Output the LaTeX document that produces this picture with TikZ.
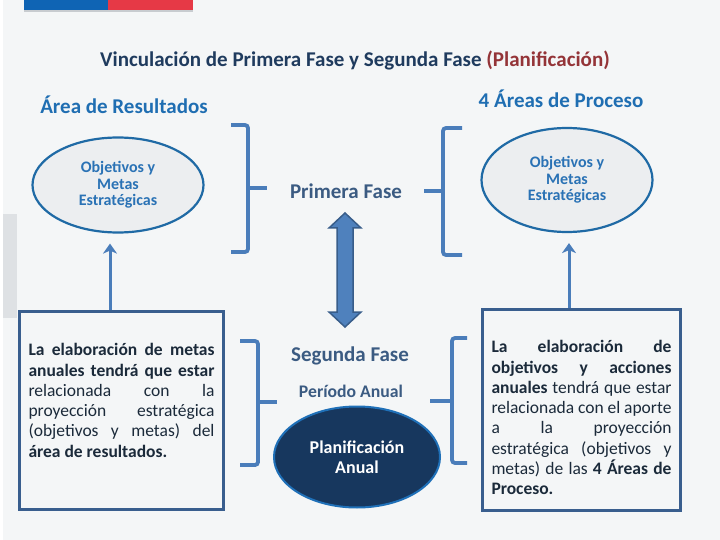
\documentclass[tikz,border=0pt]{standalone}
\usepackage{fontspec}
\setmainfont{Carlito}
\usepackage{tikz}
\usetikzlibrary{shapes,arrows.meta,positioning,calc}
\usepackage{xcolor}

\definecolor{fondo}{HTML}{F4F6F7}
\definecolor{titulo}{HTML}{1F3B5E}
\definecolor{rojo}{HTML}{943438}
\definecolor{encabezado}{HTML}{1F6EB2}
\definecolor{textoMeta}{HTML}{2A72B5}
\definecolor{bordeMeta}{HTML}{1F6AA5}
\definecolor{rellenoMeta}{HTML}{ECEEF0}
\definecolor{textoFase}{HTML}{3B5B82}
\definecolor{bordeCaja}{HTML}{395E8E}
\definecolor{textoCaja}{HTML}{1B2A3A}
\definecolor{llaveAzul}{HTML}{4A7DBA}
\definecolor{rellenoFlecha}{HTML}{4F81BD}
\definecolor{bordeFlecha}{HTML}{385D8A}
\definecolor{planRelleno}{HTML}{17375E}
\definecolor{planBorde}{HTML}{1F70B8}
\definecolor{banderaAzul}{HTML}{0F64B4}
\definecolor{banderaRoja}{HTML}{E63946}
\definecolor{grisLinea}{HTML}{C8CCD0}
\definecolor{grisBarra}{HTML}{DEE1E4}

\begin{document}
\begin{tikzpicture}[x=1pt, y=-1pt,
    meta/.style={ellipse, draw=bordeMeta, line width=2.2pt, fill=rellenoMeta, inner sep=0pt,
        minimum width=171pt, minimum height=#1, align=center, text=textoMeta,
        font=\fontsize{16}{16.5}\selectfont\bfseries},
    caja/.style={rectangle, draw=bordeCaja, line width=3pt, fill=fondo, inner ysep=0pt,
        inner xsep=#1, anchor=north west, text=textoCaja, font=\fontsize{17.5}{20.3}\selectfont},
    fase/.style={text=textoFase, font=\fontsize{#1}{22}\selectfont\bfseries},
    llave/.style={draw=llaveAzul, line width=3.8pt, rounded corners=3pt},
    flecha/.style={draw=llaveAzul, line width=3pt, -{Stealth[length=10pt,width=14pt,inset=3pt]}, shorten >=10pt},
    >=Stealth
]
    \useasboundingbox (0,0) rectangle (720,540);
    \fill[fondo] (0,0) rectangle (720,540);
    \fill[white] (0,0) rectangle (3,540);

    % Franja superior
    \fill[banderaAzul] (24,0) rectangle (108,10);
    \fill[banderaRoja] (108,0) rectangle (193,10);
    \fill[grisLinea] (24,10) rectangle (193,12);
    \fill[grisBarra] (3,214) rectangle (17,318);

    % Titulo
    \node[text=titulo, font=\fontsize{21}{24}\selectfont\bfseries] (titulo) at (355,60)
        {Vinculación de Primera Fase y Segunda Fase \textcolor{rojo}{(Planificación)}};
    \node[text=encabezado, font=\fontsize{21}{24}\selectfont\bfseries] (resultados) at (124,105) {Área de Resultados};
    \node[text=encabezado, font=\fontsize{21}{24}\selectfont\bfseries] (procesos) at (561,99) {4 Áreas de Proceso};

    % Objetivos
    \node[meta=95pt] (obj1) at (118,185) {Objetivos y\\Metas\\Estratégicas};
    \node[meta=104pt] (obj2) at (567,180) {Objetivos y\\Metas\\Estratégicas};

    % Fases
    \node[fase=21] (primera) at (346,191) {Primera Fase};
    \node[fase=21] (segunda) at (350,356) {Segunda Fase};
    \node[fase=17.7] (periodo) at (351,391) {Período Anual};
    \node[ellipse, draw=planBorde, line width=2pt, fill=planRelleno, minimum width=166pt, minimum height=101pt,
        align=center, text=white, font=\fontsize{18}{20}\selectfont\bfseries] (plan) at (357,457)
        {Planificación\\Anual};

    % Flecha doble
    \coordinate (enlace) at (345,270);
    \filldraw[draw=bordeFlecha, fill=rellenoFlecha, line width=1.5pt, line join=miter]
        ($(enlace)+(-8,-42)$) -- ($(enlace)+(-8,42)$) -- ($(enlace)+(-16,42)$) -- ($(enlace)+(0,57)$)
        -- ($(enlace)+(16,42)$) -- ($(enlace)+(8,42)$) -- ($(enlace)+(8,-42)$) -- ($(enlace)+(16,-42)$)
        -- ($(enlace)+(0,-57)$) -- ($(enlace)+(-16,-42)$) -- cycle;

    % Cajas
    \node[caja=9pt] (caja1) at (18,310) {\parbox[c][198pt][t]{186pt}{\vspace*{32pt}%
        {\bfseries La elaboración de metas\linebreak anuales tendrá que estar}\linebreak
        relacionada con la\linebreak proyección estratégica\linebreak
        (objetivos y metas) del\linebreak {\bfseries área de resultados.}}};
    \node[caja=9pt] (caja2) at (481,308) {\parbox[c][201pt][t]{180pt}{\vspace*{31pt}%
        {\bfseries La elaboración de\linebreak objetivos y acciones\linebreak anuales} tendrá que estar\linebreak
        relacionada con el aporte\linebreak a la proyección\linebreak
        estratégica (objetivos y\linebreak metas) de las {\bfseries 4 Áreas de\linebreak Proceso.}}};
    \draw[flecha] (caja1.north -| 110,0) -- (obj1.south -| 110,0);
    \draw[flecha] (caja2.north -| 569,0) -- (obj2.south -| 569,0);

    % Llaves
    \draw[llave] (231,125) -- (248,125) -- (248,252) -- (231,252);
    \draw[llave] (248,188) -- (267,188);
    \draw[llave] (462,128) -- (443,128) -- (443,255) -- (462,255);
    \draw[llave] (443,191) -- (424,191);
    \draw[llave] (240,341) -- (258,341) -- (258,465) -- (240,465);
    \draw[llave] (258,402) -- (277,402);
    \draw[llave] (467,338) -- (452,338) -- (452,463) -- (467,463);
    \draw[llave] (452,401) -- (430,401);
\end{tikzpicture}
\end{document}
